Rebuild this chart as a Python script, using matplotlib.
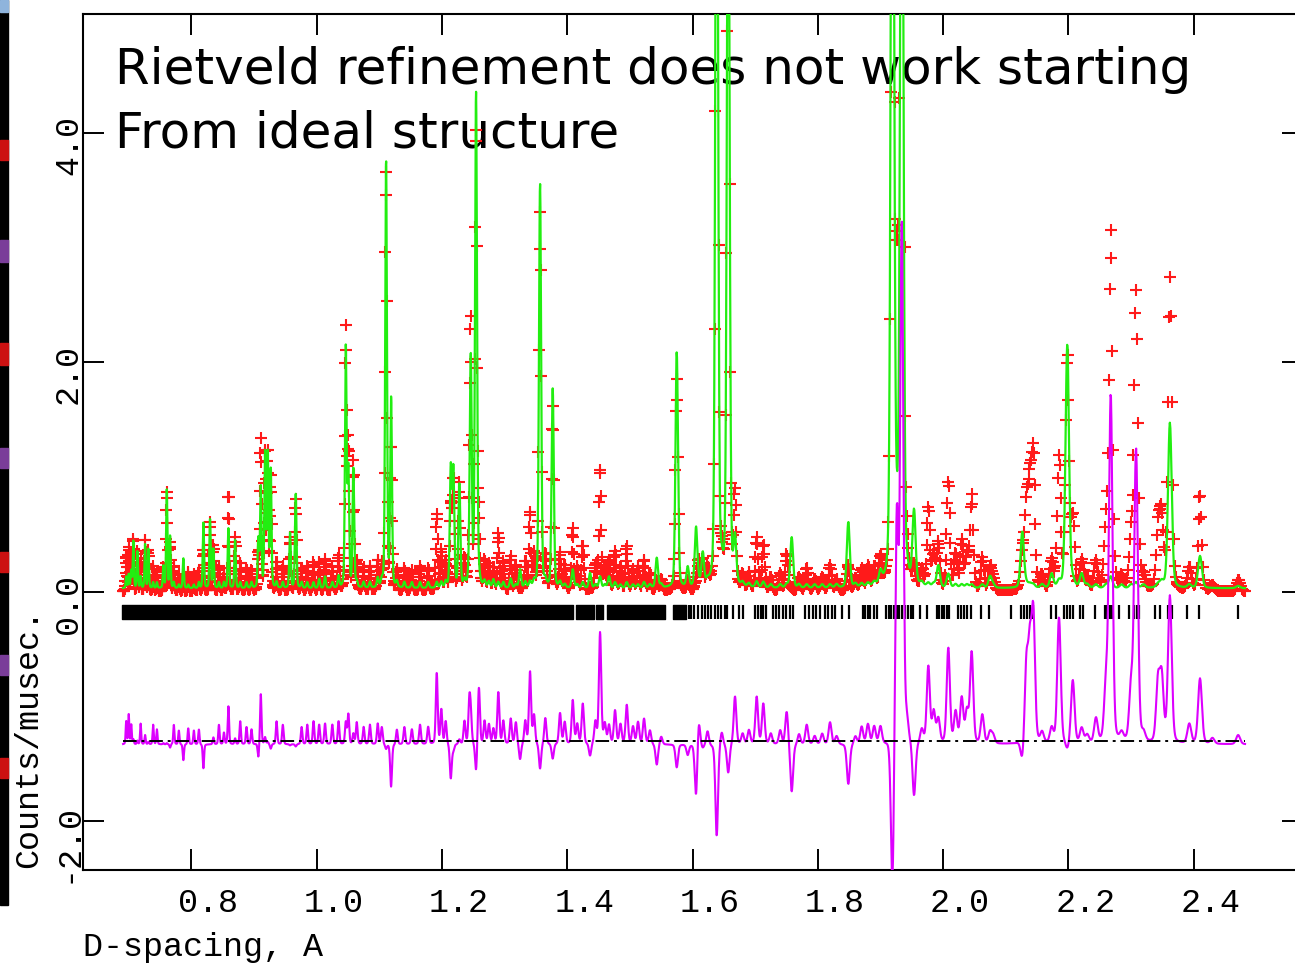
import numpy as np
import matplotlib.pyplot as plt

from matplotlib.patches import Rectangle
from matplotlib.transforms import offset_copy


# reflections: d-spacing (A), calculated height, observed height (counts/musec)
peak_d = [0.6960, 0.7000, 0.7040, 0.7074, 0.7138, 0.7190, 0.7261, 0.7314,
          0.7390, 0.7450, 0.7553, 0.7607, 0.7660, 0.7720, 0.7800, 0.7872,
          0.7950, 0.8040, 0.8120, 0.8192, 0.8298, 0.8351, 0.8440, 0.8520,
          0.8591, 0.8698, 0.8780, 0.8880, 0.8960, 0.9069, 0.9108, 0.9176,
          0.9219, 0.9267, 0.9360, 0.9460, 0.9575, 0.9666, 0.9760, 0.9850,
          0.9950, 1.0040, 1.0134, 1.0250, 1.0350, 1.0465, 1.0506, 1.0586,
          1.0640, 1.0750, 1.0850, 1.0975, 1.1040, 1.1108, 1.1188, 1.1280,
          1.1400, 1.1520, 1.1650, 1.1780, 1.1917, 1.1990, 1.2060, 1.2141,
          1.2182, 1.2278, 1.2360, 1.2437, 1.2460, 1.2544, 1.2590, 1.2680,
          1.2750, 1.2821, 1.2900, 1.2980, 1.3098, 1.3180, 1.3247, 1.3330,
          1.3406, 1.3470, 1.3566, 1.3650, 1.3768, 1.3885, 1.3960, 1.4088,
          1.4160, 1.4248, 1.4364, 1.4450, 1.4524, 1.4600, 1.4667, 1.4763,
          1.4850, 1.4950, 1.5050, 1.5130, 1.5226, 1.5320, 1.5429, 1.5500,
          1.5748, 1.5923, 1.6056, 1.6100, 1.6163, 1.6240, 1.6386, 1.6466,
          1.6570, 1.6678, 1.6800, 1.6900, 1.7024, 1.7130, 1.7250, 1.7400,
          1.7503, 1.7583, 1.7700, 1.7823, 1.7950, 1.8070, 1.8195, 1.8300,
          1.8487, 1.8600, 1.8700, 1.8800, 1.8900, 1.9000, 1.9191, 1.9262,
          1.9340, 1.9420, 1.9536, 1.9660, 1.9764, 1.9850, 1.9924, 2.0083,
          2.0200, 2.0297, 2.0380, 2.0456, 2.0626, 2.0749, 2.0800, 2.1264,
          2.1330, 2.1385, 2.1440, 2.1580, 2.1733, 2.1850, 2.1982, 2.2070,
          2.2212, 2.2300, 2.2440, 2.2600, 2.2676, 2.2850, 2.3000, 2.3080,
          2.3200, 2.3430, 2.3490, 2.3620, 2.3930, 2.4101, 2.4300, 2.4710]

calc_height = [0.10, 0.12, 0.15, 0.41, 0.32, 0.10, 0.38, 0.34,
               0.05, 0.05, 0.19, 0.86, 0.45, 0.05, 0.03, 0.26,
               0.03, 0.03, 0.05, 0.57, 0.60, 0.34, 0.05, 0.05,
               0.52, 0.42, 0.05, 0.05, 0.05, 0.42, 0.87, 1.16,
               1.16, 1.02, 0.05, 0.05, 0.48, 0.82, 0.05, 0.05,
               0.05, 0.08, 0.10, 0.05, 0.10, 2.08, 1.00, 1.03,
               0.05, 0.05, 0.05, 0.08, 0.05, 3.72, 1.63, 0.05,
               0.05, 0.05, 0.05, 0.05, 0.05, 0.05, 0.05, 1.02,
               1.00, 0.89, 0.05, 0.10, 1.96, 4.30, 0.05, 0.05,
               0.05, 0.07, 0.05, 0.05, 0.08, 0.03, 0.16, 0.05,
               0.05, 0.05, 3.52, 0.05, 1.73, 0.05, 0.03, 0.16,
               0.03, 0.05, 0.13, 0.03, 0.10, 0.03, 0.10, 0.05,
               0.03, 0.05, 0.03, 0.03, 0.05, 0.03, 0.26, 0.03,
               2.05, 0.17, 0.51, 0.03, 0.28, 0.03, 8.50, 0.10,
               7.20, 0.38, 0.03, 0.03, 0.05, 0.05, 0.03, 0.03,
               0.03, 0.44, 0.03, 0.03, 0.03, 0.03, 0.03, 0.03,
               0.57, 0.03, 0.03, 0.03, 0.03, 0.10, 9.50, 0.30,
               8.50, 0.05, 0.63, 0.03, 0.03, 0.03, 0.19, 0.12,
               0.03, 0.03, 0.03, 0.03, 0.03, 0.10, 0.03, 0.49,
               0.03, 0.03, 0.03, 0.03, 0.12, 0.05, 2.12, 0.05,
               0.12, 0.03, 0.03, 0.03, 0.10, 0.03, 0.03, 0.05,
               0.03, 0.03, 0.05, 1.44, 0.03, 0.28, 0.00, 0.02]

obs_height = [0.30, 0.38, 0.32, 0.45, 0.35, 0.28, 0.46, 0.36,
              0.22, 0.18, 0.20, 0.87, 0.42, 0.22, 0.15, 0.12,
              0.17, 0.15, 0.18, 0.36, 0.60, 0.40, 0.22, 0.15,
              0.85, 0.47, 0.25, 0.20, 0.18, 0.30, 1.31, 1.22,
              1.18, 0.98, 0.25, 0.22, 0.47, 0.80, 0.20, 0.22,
              0.25, 0.25, 0.28, 0.22, 0.30, 2.27, 1.26, 1.12,
              0.24, 0.20, 0.22, 0.26, 0.20, 3.68, 1.26, 0.18,
              0.20, 0.18, 0.22, 0.20, 0.67, 0.35, 0.25, 0.72,
              0.95, 0.93, 0.25, 0.45, 2.19, 4.05, 0.55, 0.25,
              0.22, 0.20, 0.50, 0.25, 0.30, 0.22, 0.02, 0.25,
              0.68, 0.30, 3.30, 0.28, 1.60, 0.32, 0.22, 0.54,
              0.20, 0.40, 0.02, 0.22, 1.07, 0.20, 0.26, 0.34,
              0.20, 0.39, 0.18, 0.22, 0.27, 0.15, 0.08, 0.10,
              1.85, 0.08, 0.05, 0.25, 0.25, 0.15, 7.70, 0.22,
              6.95, 0.80, 0.12, 0.15, 0.46, 0.40, 0.12, 0.15,
              0.32, 0.02, 0.12, 0.20, 0.10, 0.12, 0.22, 0.10,
              0.22, 0.10, 0.18, 0.20, 0.18, 0.25, 8.20, 2.30,
              13.0, 0.20, 0.15, 0.15, 0.70, 0.30, 0.40, 0.95,
              0.30, 0.42, 0.30, 0.82, 0.28, 0.20, 0.10, 0.32,
              0.70, 0.80, 1.12, 0.12, 0.25, 1.15, 2.05, 0.60,
              0.25, 0.10, 0.24, 0.50, 3.12, 0.10, 0.48, 2.60,
              0.10, 0.55, 0.60, 2.72, 0.20, 0.85, 0.05, 0.10]

calc_background = 0.03
diff_offset = -1.30
d_min, d_max = 0.691, 2.482

# reflection tick marks: solid runs where they merge, then single ticks
tick_spans = [(0.690, 1.409), (1.414, 1.442), (1.446, 1.457),
              (1.463, 1.556), (1.569, 1.590)]
tick_d = [1.594, 1.598, 1.603, 1.608, 1.615, 1.620, 1.625, 1.630, 1.636,
          1.641, 1.646, 1.652, 1.6556, 1.665, 1.6747, 1.681, 1.700, 1.704,
          1.709, 1.713, 1.718, 1.728, 1.733, 1.738, 1.744, 1.750, 1.755,
          1.761, 1.780, 1.786, 1.792, 1.797, 1.803, 1.811, 1.816, 1.822,
          1.827, 1.838, 1.849, 1.872, 1.876, 1.880, 1.884, 1.889, 1.894,
          1.909, 1.913, 1.917, 1.921, 1.926, 1.930, 1.935, 1.939, 1.944,
          1.948, 1.952, 1.963, 1.974, 1.990, 1.994, 1.998, 2.002, 2.006,
          2.010, 2.023, 2.028, 2.033, 2.038, 2.0445, 2.060, 2.074, 2.108,
          2.124, 2.129, 2.134, 2.139, 2.144, 2.172, 2.181, 2.193, 2.198,
          2.203, 2.208, 2.218, 2.224, 2.2425, 2.258, 2.262, 2.266, 2.269,
          2.280, 2.296, 2.305, 2.309, 2.312, 2.338, 2.346, 2.359, 2.362,
          2.366, 2.389, 2.409, 2.471]

x_ticks = [0.8, 1.0, 1.2, 1.4, 1.6, 1.8, 2.0, 2.2, 2.4]
x_tick_labels = ['0.8', '1.0', '1.2', '1.4', '1.6', '1.8', '2.0', '2.2', '2.4']
y_ticks = [-2.0, 0.0, 2.0, 4.0]
y_tick_labels = ['-2.0', '0.0', '2.0', '4.0']

title_lines = ['Rietveld refinement does not work starting',
               'From ideal structure']

MONO = 'Liberation Mono'
W, H = 1295, 966


def profile(d, centres, heights, eta=0.25, res=0.003):
    # pseudo-Voigt peaks, width growing with d as in time-of-flight data
    y = np.zeros_like(d)
    for c, h in zip(centres, heights):
        x = (d - c) / (res * c / 2)
        y += h * ((1 - eta) * np.exp(-np.log(2) * x**2) + eta / (1 + x**2))
    return y


def slide_edge(fig):
    fig.patches.append(Rectangle((0, 1 - 905 / H), 8 / W, 905 / H,
                                 transform=fig.transFigure, color='black'))
    marks = [(0, 12, '#8fb4dc'), (140, 160, '#cc1111'), (240, 262, '#7a3d99'),
             (343, 365, '#cc1111'), (448, 468, '#7a3d99'),
             (552, 572, '#cc1111'), (655, 675, '#7a3d99'),
             (758, 778, '#cc1111')]
    for top, bottom, colour in marks:
        fig.patches.append(Rectangle((0, 1 - bottom / H), 8 / W,
                                     (bottom - top) / H,
                                     transform=fig.transFigure,
                                     color=colour))


def main():
    fig = plt.figure(figsize=(W / 100, H / 100), dpi=100)
    ax = fig.add_axes([83 / W, 96 / H, 1220 / W, 856.3 / H])
    slide_edge(fig)

    d = np.geomspace(d_min, d_max, 4000)
    calc = calc_background + profile(d, peak_d, calc_height)
    obs = profile(d, peak_d, obs_height)
    diff = obs - calc

    ax.plot(d[::2], obs[::2], '+', color='#ff1a1a', ms=8, mew=1.5,
            zorder=2)
    ax.plot(d, calc, color='#22ee11', lw=1.6, zorder=3)
    ax.broken_barh([(a, b - a) for a, b in tick_spans], (-0.235, 0.115),
                   color='black', zorder=3)
    ax.vlines(tick_d, -0.235, -0.12, color='black', lw=1.6, zorder=3)
    ax.plot(d, diff + diff_offset, color='#dd00ff', lw=1.5, zorder=4)
    ax.plot([d_min, d_max], [diff_offset, diff_offset], color='black',
            lw=1.4, ls=(0, (7, 2.5, 1.5, 2.5)), zorder=5)

    ax.set_xlim(0.627, 2.5745)
    ax.set_ylim(-2.424, 5.035)
    ax.set_xticks(x_ticks)
    ax.set_yticks(y_ticks)
    ax.tick_params(direction='in', length=15, width=1.4, top=True,
                   right=True, labelbottom=False, labelleft=False)
    for s in ax.spines.values():
        s.set_linewidth(1.5)

    for t, s in zip(x_ticks, x_tick_labels):
        tr = offset_copy(ax.get_xaxis_transform(), fig, x=17, y=-42,
                         units='dots')
        ax.text(t, 0, s, transform=tr, ha='center', va='baseline',
                fontsize=24, family=MONO, clip_on=False)
    for t, s in zip(y_ticks, y_tick_labels):
        tr = offset_copy(ax.get_yaxis_transform(), fig, x=-6, y=18,
                         units='dots')
        ax.text(0, t, s, transform=tr, rotation=90, rotation_mode='anchor',
                ha='right', va='baseline', fontsize=24, family=MONO,
                clip_on=False)

    ax.text(0, 0, 'D-spacing, A',
            transform=offset_copy(ax.transAxes, fig, x=0, y=-86,
                                  units='dots'),
            ha='left', va='baseline', fontsize=24, family=MONO)
    ax.text(0, 0, 'Counts/musec.',
            transform=offset_copy(ax.transAxes, fig, x=-46, y=2,
                                  units='dots'),
            rotation=90, rotation_mode='anchor', ha='left', va='baseline',
            fontsize=24, family=MONO)

    for i, line in enumerate(title_lines):
        ax.text(115 / W, 1 - (84 + 64 * i) / H, line,
                transform=fig.transFigure, ha='left', va='baseline',
                fontsize=36, family='DejaVu Sans', zorder=1)

    fig.savefig('out.png', dpi=100)


if __name__ == '__main__':
    main()
